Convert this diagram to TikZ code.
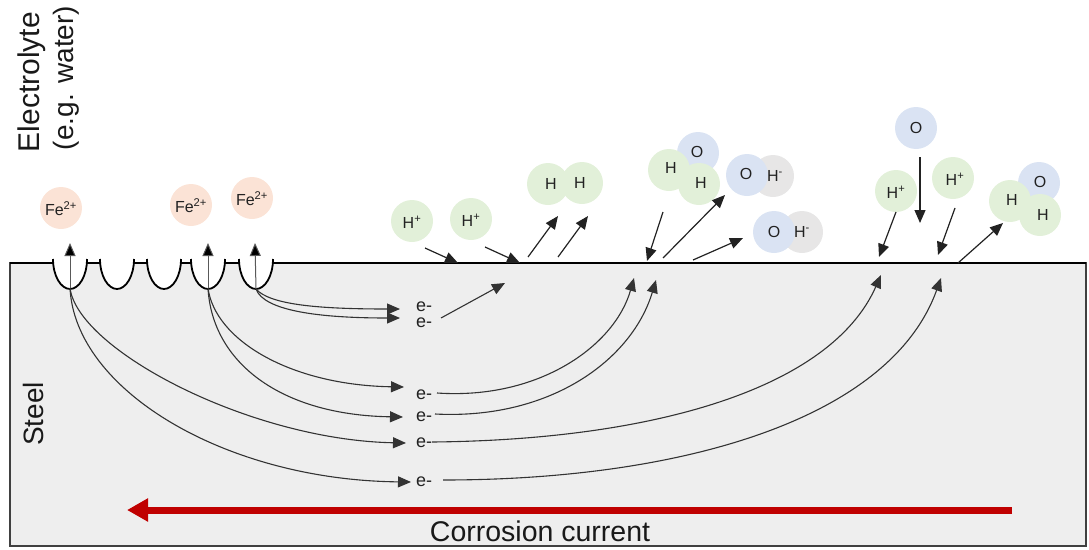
\documentclass[tikz,border=0pt]{standalone}
\usepackage{fontspec}
\setmainfont{Liberation Sans}
\usetikzlibrary{arrows.meta}
\definecolor{steelfill}{HTML}{EEEEEE}
\definecolor{fecol}{HTML}{FBE3D6}
\definecolor{hcol}{HTML}{E2F0D9}
\definecolor{ocol}{HTML}{DAE3F3}
\definecolor{hmcol}{HTML}{E7E6E6}
\definecolor{curcol}{HTML}{C00000}
\definecolor{inkcol}{HTML}{222222}
\tikzset{
  atom/.style={circle, minimum size=42pt, inner sep=0pt, draw=none},
  featom/.style={atom, fill=fecol},
  hatom/.style={atom, fill=hcol},
  oatom/.style={atom, fill=ocol},
  hmatom/.style={atom, fill=hmcol},
  atomtxt/.style={inner sep=0pt, font=\fontsize{16}{16}\selectfont, text=inkcol},
  elabel/.style={inner sep=0pt, font=\fontsize{18}{18}\selectfont, text=inkcol},
  flowarrow/.style={draw=inkcol, line width=1.2pt, -{Triangle[length=13pt,width=11pt]}},
  eflow/.style={draw=black!80, line width=1.1pt, -{Triangle[length=13pt,width=11pt]}},
  pitup/.style={draw=black!65, line width=1pt, -{Triangle[length=13pt,width=11pt,fill=black]}},
  bigtext/.style={inner sep=0pt, text=black!90},
}
\begin{document}
\begin{tikzpicture}[x=1pt,y=-1pt]
\useasboundingbox (0,0) rectangle (1089,549);

% steel block
\draw[fill=steelfill, draw=black!75, line width=1.8pt] (10,263) rectangle (1086,546);
\draw[line width=2.2pt, black] (10,263) -- (1086,263);

% pits
\foreach \c in {70,117,164,208,256}{
  \fill[white] ({\c-17},259) .. controls ({\c-17},276) and ({\c-9},289) .. (\c,289)
     .. controls ({\c+9},289) and ({\c+17},276) .. ({\c+17},259) -- cycle;
  \draw[line width=1.8pt, black] ({\c-17},259) .. controls ({\c-17},276) and ({\c-9},289) .. (\c,289)
     .. controls ({\c+9},289) and ({\c+17},276) .. ({\c+17},259);
}

% coordinates
\coordinate (pb1) at (70,288);
\coordinate (pb4) at (208,288);
\coordinate (pb5) at (256,289);
\coordinate (up1) at (70,243);
\coordinate (up4) at (208,243);
\coordinate (up5) at (255,243);
\coordinate (ea1) at (400,309);
\coordinate (ea2) at (400,318);
\coordinate (ea3) at (404,387);
\coordinate (ea4) at (403,417);
\coordinate (ea5) at (406,443);
\coordinate (ea6) at (411,482);
\coordinate (s1) at (441,318);
\coordinate (s1t) at (505,283);
\coordinate (s3) at (437,393);
\coordinate (s4) at (435,414);
\coordinate (s5) at (432,442);
\coordinate (s6) at (443,480);
\coordinate (t3) at (634,278);
\coordinate (t4) at (656,280);
\coordinate (t5) at (881,275);
\coordinate (t6) at (941,278);

% electron labels
\node[elabel] (e1) at (424,307) {e-};
\node[elabel] (e2) at (424,323) {e-};
\node[elabel] (e3) at (424,395) {e-};
\node[elabel] (e4) at (424,417) {e-};
\node[elabel] (e5) at (424,443) {e-};
\node[elabel] (e6) at (424,482) {e-};

% electron paths in steel
\draw[eflow] (pb5) .. controls (270,305) and (320,309) .. (ea1);
\draw[eflow] (pb5) .. controls (264,311) and (320,318) .. (ea2);
\draw[eflow] (pb4) .. controls (215,340) and (290,385) .. (ea3);
\draw[eflow] (pb4) .. controls (212,362) and (280,415) .. (ea4);
\draw[eflow] (pb1) .. controls (78,350) and (250,440) .. (ea5);
\draw[eflow] (pb1) .. controls (75,390) and (225,480) .. (ea6);
\draw[eflow] (s1) -- (s1t);
\draw[eflow] (s3) .. controls (540,400) and (615,345) .. (t3);
\draw[eflow] (s4) .. controls (550,420) and (632,360) .. (t4);
\draw[eflow] (s5) .. controls (650,440) and (830,390) .. (t5);
\draw[eflow] (s6) .. controls (680,480) and (890,420) .. (t6);

% dissolution arrows
\draw[pitup] (pb1) -- (up1);
\draw[pitup] (pb4) -- (up4);
\draw[pitup] (pb5) -- (up5);

% atoms
\node[featom] (fe1) at (61,208) {};
\node[featom] (fe2) at (191,205) {};
\node[featom] (fe3) at (252,198) {};
\node[hatom] (hp1) at (412,221) {};
\node[hatom] (hp2) at (471,219) {};
\node[hatom] (hh1) at (548,184) {};
\node[hatom] (hh2) at (582,183) {};
\node[oatom] (w1o) at (698,153) {};
\node[hatom] (w1ha) at (669,170) {};
\node[hatom] (w1hb) at (699,184) {};
\node[hmatom] (oh1h) at (773,176) {};
\node[oatom] (oh1o) at (747,175) {};
\node[hmatom] (oh2h) at (802,232) {};
\node[oatom] (oh2o) at (774,232) {};
\node[oatom] (o1) at (916,128) {};
\node[hatom] (hp3) at (896,191) {};
\node[hatom] (hp4) at (953,178) {};
\node[oatom] (w2o) at (1039,183) {};
\node[hatom] (w2ha) at (1010,201) {};
\node[hatom] (w2hb) at (1040,215) {};

% atom labels
\node[atomtxt] (tfe1) at (61,209) {Fe\textsuperscript{2+}};
\node[atomtxt] (tfe2) at (191,206) {Fe\textsuperscript{2+}};
\node[atomtxt] (tfe3) at (252,199) {Fe\textsuperscript{2+}};
\node[atomtxt] (thp1) at (412,222) {H\textsuperscript{+}};
\node[atomtxt] (thp2) at (471,220) {H\textsuperscript{+}};
\node[atomtxt] (thh1) at (551,184) {H};
\node[atomtxt] (thh2) at (580,183) {H};
\node[atomtxt] (tw1o) at (697,152) {O};
\node[atomtxt] (tw1ha) at (671,168) {H};
\node[atomtxt] (tw1hb) at (701,183) {H};
\node[atomtxt] (toh1o) at (746,174) {O};
\node[atomtxt] (toh1h) at (775,176) {H\textsuperscript{-}};
\node[atomtxt] (toh2o) at (774,232) {O};
\node[atomtxt] (toh2h) at (802,232) {H\textsuperscript{-}};
\node[atomtxt] (to1) at (916,128) {O};
\node[atomtxt] (thp3) at (896,192) {H\textsuperscript{+}};
\node[atomtxt] (thp4) at (955,179) {H\textsuperscript{+}};
\node[atomtxt] (tw2o) at (1040,182) {O};
\node[atomtxt] (tw2ha) at (1012,200) {H};
\node[atomtxt] (tw2hb) at (1043,215) {H};

% surface reaction arrows
\coordinate (a1s) at (425,248); \coordinate (a1e) at (458,263);
\coordinate (a2s) at (485,247); \coordinate (a2e) at (520,263);
\coordinate (a3s) at (528,257); \coordinate (a3e) at (558,216);
\coordinate (a4s) at (558,257); \coordinate (a4e) at (588,216);
\coordinate (a5s) at (663,212); \coordinate (a5e) at (647,261);
\coordinate (a6s) at (663,258); \coordinate (a6e) at (725,195);
\coordinate (a7s) at (693,260); \coordinate (a7e) at (743,238);
\coordinate (a8s) at (896,212); \coordinate (a8e) at (879,257);
\coordinate (a9s) at (920,157); \coordinate (a9e) at (920,223);
\coordinate (a10s) at (955,208); \coordinate (a10e) at (938,255);
\coordinate (a11s) at (958,263); \coordinate (a11e) at (1003,223);
\foreach \i in {1,...,11}{ \draw[flowarrow] (a\i s) -- (a\i e); }

% corrosion current
\coordinate (cc1) at (1012,510);
\coordinate (cc2) at (127,510);
\draw[curcol, line width=7pt, -{Triangle[length=21pt,width=22pt]}] (cc1) -- (cc2);
\node[bigtext, font=\fontsize{28.5}{28.5}\selectfont] (cctext) at (540,531) {Corrosion current};

% side labels
\node[bigtext, rotate=90, font=\fontsize{28}{28}\selectfont] (steel) at (33,414) {Steel};
\node[bigtext, rotate=90, font=\fontsize{30}{30}\selectfont] (electro) at (32,82) {Electrolyte};
\node[bigtext, rotate=90, font=\fontsize{28}{28}\selectfont] (eg) at (66,78) {(e.g. water)};
\end{tikzpicture}
\end{document}
